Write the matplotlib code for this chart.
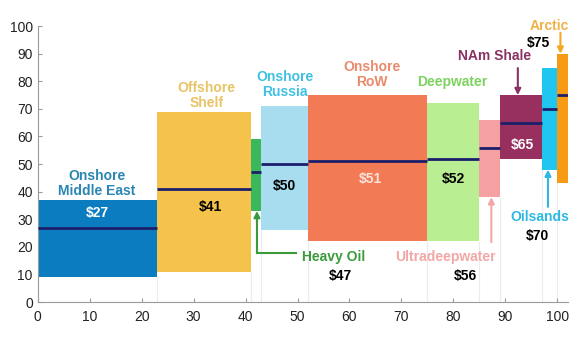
import numpy as np
import matplotlib.pyplot as plt

plt.rcParams['font.family'] = ['Liberation Sans', 'DejaVu Sans']

# breakeven cost by resource type: width = volume share, box = cost range
resources = ['Onshore Middle East', 'Offshore Shelf', 'Heavy Oil', 'Onshore Russia',
             'Onshore RoW', 'Deepwater', 'Ultradeepwater', 'NAm Shale', 'Oilsands', 'Arctic']
widths = np.array([23, 18, 2, 9, 23, 10, 4, 8, 3, 2])
low = np.array([9, 11, 33, 26, 22, 22, 38, 52, 48, 43])
high = np.array([37, 69, 59, 71, 75, 72, 66, 75, 85, 90])
breakeven = np.array([27, 41, 47, 50, 51, 52, 56, 65, 70, 75])

box_colors = ['#0a7cbf', '#f5c24c', '#3cb85c', '#a8dcef', '#f27b55',
              '#b9ef92', '#f6a1a1', '#97305f', '#1ec6f0', '#f79a14']
text_colors = ['#2a86b2', '#e8c467', '#3b9b3b', '#3fc0e2', '#ea8a6c',
               '#7fd262', '#f2a7a7', '#8b3163', '#2fb9e2', '#f0b246']

lefts = np.concatenate([[0], np.cumsum(widths)[:-1]])
rights = lefts + widths

fig = plt.figure(figsize=(5.86, 3.44), dpi=100)
ax = fig.add_axes([0.0643, 0.122, 0.9045, 0.802])

# faint separators under each box
ax.vlines(rights[:-1], 0, low[:-1], color='#ececec', lw=0.8, zorder=1)

ax.bar(lefts, high - low, width=widths, bottom=low, align='edge',
       color=box_colors, edgecolor='none', zorder=2)
ax.hlines(breakeven, lefts, rights, color='#1b1f6b', lw=2, zorder=3)

lab = dict(ha='center', va='center', fontsize=10, fontweight='bold')

# names above / below boxes
ax.text(11.4, 43, 'Onshore\nMiddle East', color=text_colors[0], linespacing=1.1, **lab)
ax.text(32.5, 75, 'Offshore\nShelf', color=text_colors[1], linespacing=1.1, **lab)
ax.text(47.5, 79, 'Onshore\nRussia', color=text_colors[3], linespacing=1.1, **lab)
ax.text(64.3, 82.5, 'Onshore\nRoW', color=text_colors[4], linespacing=1.1, **lab)
ax.text(79.8, 79.6, 'Deepwater', color=text_colors[5], **lab)
ax.text(57.0, 16.2, 'Heavy Oil', color=text_colors[2], **lab)
ax.text(78.5, 16.2, 'Ultradeepwater', color=text_colors[6], **lab)
ax.text(87.9, 89.1, 'NAm Shale', color=text_colors[7], **lab)
ax.text(96.6, 30.7, 'Oilsands', color=text_colors[8], **lab)
ax.text(98.4, 100, 'Arctic', color=text_colors[9], clip_on=False, **lab)

# breakeven price labels
price = ['$%d' % v for v in breakeven]
ax.text(11.4, 32.2, price[0], color='white', **lab)
ax.text(33.2, 34.4, price[1], color='black', **lab)
ax.text(47.5, 42, price[3], color='black', **lab)
ax.text(64.0, 44.6, price[4], color='#fbe3da', **lab)
ax.text(80.0, 44.6, price[5], color='black', **lab)
ax.text(58.2, 9.4, price[2], color='black', **lab)
ax.text(82.3, 9.4, price[6], color='black', **lab)
ax.text(93.2, 57, price[7], color='white', **lab)
ax.text(96.1, 24, price[8], color='black', **lab)
ax.text(96.3, 94, price[9], color='black', clip_on=False, **lab)

# pointers to the narrow boxes
arrow = dict(arrowstyle='-|>', lw=1.5, mutation_scale=9, shrinkA=0, shrinkB=0)
ax.plot([49.7, 42.2], [17.7, 17.7], color=text_colors[2], lw=1.5, zorder=3)
ax.annotate('', xy=(42.2, low[2]), xytext=(42.2, 17.7),
            arrowprops=dict(color=text_colors[2], **arrow))
ax.annotate('', xy=(87.3, low[6]), xytext=(87.3, 21.7),
            arrowprops=dict(color=text_colors[6], **arrow))
ax.annotate('', xy=(92.4, high[7]), xytext=(92.4, 84.8),
            arrowprops=dict(color=text_colors[7], **arrow))
ax.annotate('', xy=(98.2, low[8]), xytext=(98.2, 34.5),
            arrowprops=dict(color=text_colors[8], **arrow))
ax.annotate('', xy=(100.6, high[9]), xytext=(100.6, 97.6),
            arrowprops=dict(color='#f5a623', **arrow), annotation_clip=False)

ax.set_xlim(0, 102)
ax.set_ylim(0, 100)
ax.set_xticks(np.arange(0, 101, 10))
ax.set_yticks(np.arange(0, 101, 10))
for side in ['top', 'right']:
    ax.spines[side].set_visible(False)
for side in ['left', 'bottom']:
    ax.spines[side].set_color('#9a9a9a')
ax.tick_params(direction='in', length=3, color='#9a9a9a', labelsize=10,
               labelcolor='#222222')
ax.tick_params(axis='x', pad=6)

fig.savefig('out.png', dpi=100)
